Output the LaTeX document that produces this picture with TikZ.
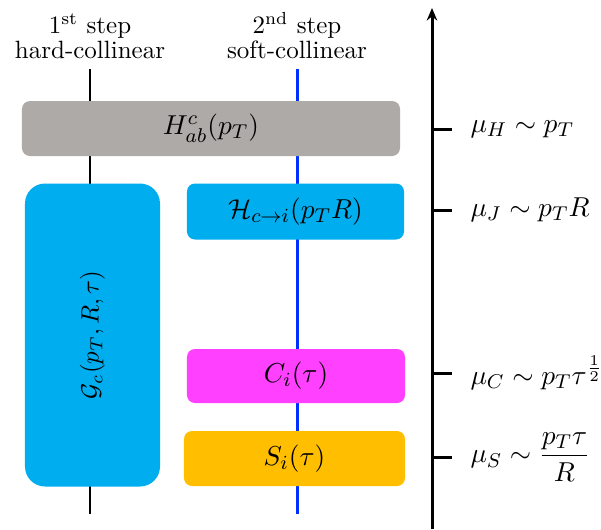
\documentclass[tikz,border=0pt]{standalone}
\usepackage{amsmath}
\usetikzlibrary{arrows.meta}
\definecolor{hardgray}{RGB}{174,170,168}
\definecolor{jetcyan}{RGB}{0,174,239}
\definecolor{collmag}{RGB}{255,64,255}
\definecolor{softorange}{RGB}{255,191,0}
\definecolor{softblue}{RGB}{0,48,255}
\begin{document}
\begin{tikzpicture}[x=0.4pt, y=-0.4pt, >={Stealth[length=5pt,width=4.2pt]}, line join=round, font=\normalsize]
		\tikzset{fbox/.style={rounded corners=3.2pt, inner sep=0pt, draw=none, font=\fontsize{11.3}{13}\selectfont},
			scalelab/.style={anchor=west, inner sep=0pt, font=\fontsize{11.2}{13}\selectfont}}
		\useasboundingbox (0,0) rectangle (601,529);
		% vertical factorization lines
		\path (90,69) coordinate (T1) (90,514) coordinate (B1)
			(297,69) coordinate (T2) (297,514) coordinate (B2);
		\draw [line width=1pt] (T1)--(B1);
		\draw [line width=1.2pt, softblue] (T2)--(B2);
		% headers
		\node [align=center] (h1) at (90,36) {1\textsuperscript{st} step\\[-2pt]hard-collinear};
		\node [align=center] (h2) at (297,36) {2\textsuperscript{nd} step\\[-2pt]soft-collinear};
		% functions
		\node [fbox, fill=hardgray, minimum width=151.2pt, minimum height=22pt] (H) at (211,128.5) {$H_{ab}^{c}(p_T)$};
		\node [fbox, fill=jetcyan, rounded corners=8pt, rotate=90, minimum width=121.2pt, minimum height=54pt, font=\normalsize] (G) at (92.5,335) {$\mathcal{G}_c(p_T,R,\tau)$};
		\node [fbox, fill=jetcyan, minimum width=86.8pt, minimum height=22.4pt] (Hc) at (295.5,211.5) {$\mathcal{H}_{c\to i}(p_TR)$};
		\node [fbox, fill=collmag, minimum width=87.2pt, minimum height=21.6pt] (C) at (296,376) {$C_i(\tau)$};
		\node [fbox, fill=softorange, minimum width=88.4pt, minimum height=22pt] (S) at (294.5,458.5) {$S_i(\tau)$};
		% scale axis
		\path (432,529) coordinate (A0) (432,8) coordinate (A1);
		\draw [->, line width=1.2pt] (A0)--(A1);
		\foreach \y/\n/\t in {129/muH/{\mu_H\sim p_T}, 210/muJ/{\mu_J\sim p_TR}, 373/muC/{\mu_C\sim p_T\tau^{\frac{1}{2}}}, 457/muS/{\mu_S\sim \dfrac{p_T\tau}{R}}}{
			\path (432,\y) coordinate (\n a) (452,\y) coordinate (\n b);
			\draw [line width=1.2pt] (\n a)--(\n b);
			\node [scalelab] (\n) at ([xshift=18*0.4pt]\n b) {$\t$};
		}
	\end{tikzpicture}
\end{document}
